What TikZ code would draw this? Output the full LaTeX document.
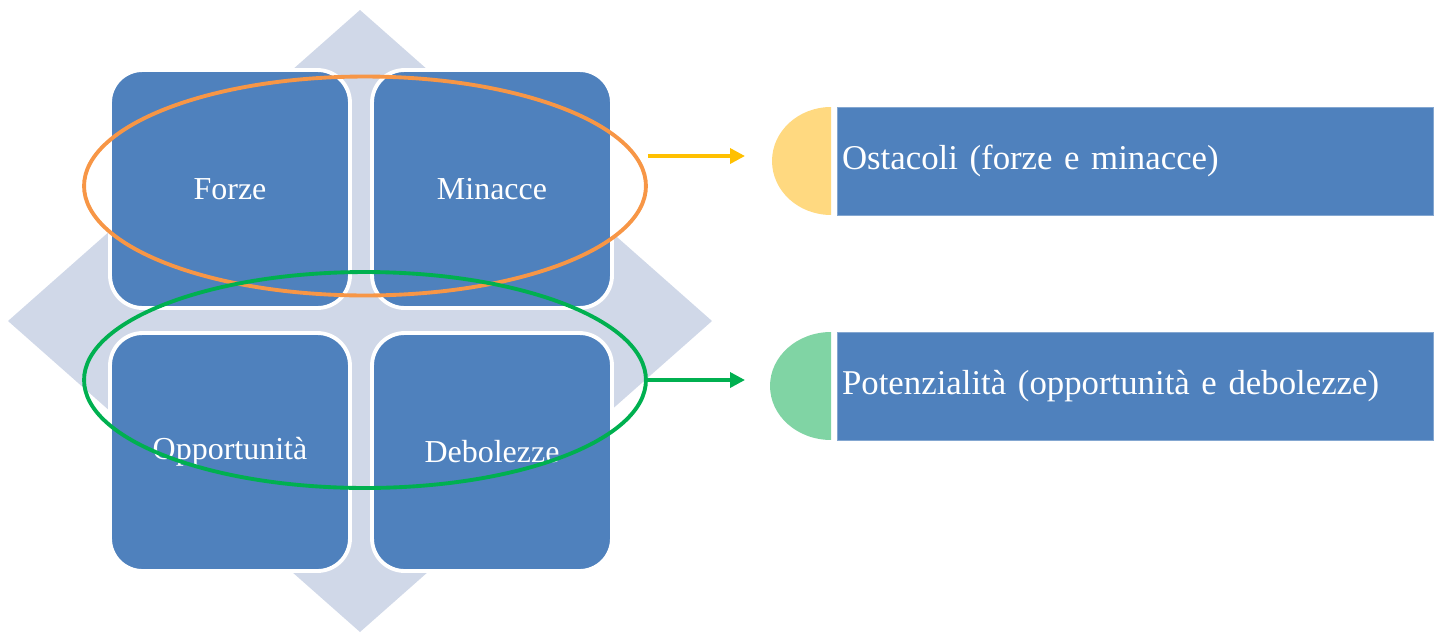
\documentclass[tikz,border=0pt]{standalone}
\usepackage{fontspec}
\setmainfont{Liberation Serif}
\usepackage{tikz}
\usetikzlibrary{arrows.meta, positioning, shapes.geometric, calc}

\definecolor{swotblue}{HTML}{4F81BD}
\definecolor{diamondgray}{HTML}{D0D8E8}
\definecolor{ringorange}{HTML}{F79646}
\definecolor{arrowgold}{HTML}{FFC000}
\definecolor{ringgreen}{HTML}{00B050}
\definecolor{capyellow}{HTML}{FFD980}
\definecolor{capgreen}{HTML}{80D4A4}

\begin{document}
\begin{tikzpicture}[
  x=0.02cm, y=-0.02cm,
  quad/.style={draw=white, line width=2.2pt, fill=swotblue, rounded corners=0.65cm,
               minimum width=4.8cm, minimum height=4.76cm, text=white,
               font=\fontsize{18.2}{20}\selectfont},
  bar/.style={fill=swotblue, draw=swotblue!70!white, line width=0.5pt,
              minimum width=11.92cm, minimum height=2.16cm,
              text width=11.72cm, inner xsep=0.1cm, align=left, text=white,
              font=\fontsize{19.8}{22}\selectfont},
  ring/.style={ellipse, draw, line width=2.2pt, minimum width=11.24cm, inner sep=0pt},
  arr/.style={-{Triangle[length=0.3cm, width=0.3cm]}, line width=2pt}
]
  \useasboundingbox (0,0) rectangle (1441,633);

  % background diamond
  \fill[diamondgray] (360,10) -- (712,321) -- (360,632) -- (8,321) -- cycle;

  \node[quad] (forze) at (230,189) {Forze};
  \node[quad] (minacce) at (492,189) {Minacce};
  \node[quad] (opport) at (230,452) {Opportunità};
  \node[quad] (debol) at (492,452) {Debolezze};

  \node[ring, draw=ringorange, minimum height=4.38cm] (ot) at (365,186) {};
  \node[ring, draw=ringgreen, minimum height=4.32cm] (po) at (365,380) {};

  \node[bar] (ost) at (1135,161) {Ostacoli (forze e minacce)};
  \node[bar] (pot) at (1135,386) {Potenzialità (opportunità e debolezze)};

  \fill[capyellow] (831,107) arc[start angle=90, end angle=270, x radius=1.18cm, y radius=1.08cm] -- cycle;
  \fill[capgreen] (831,332) arc[start angle=90, end angle=270, x radius=1.22cm, y radius=1.08cm] -- cycle;

  \coordinate (t1) at (745,156);
  \coordinate (t2) at (745,380);
  \draw[arr, arrowgold] (ot.east |- t1) -- (t1);
  \draw[arr, ringgreen] (po.east) -- (t2);
\end{tikzpicture}
\end{document}
